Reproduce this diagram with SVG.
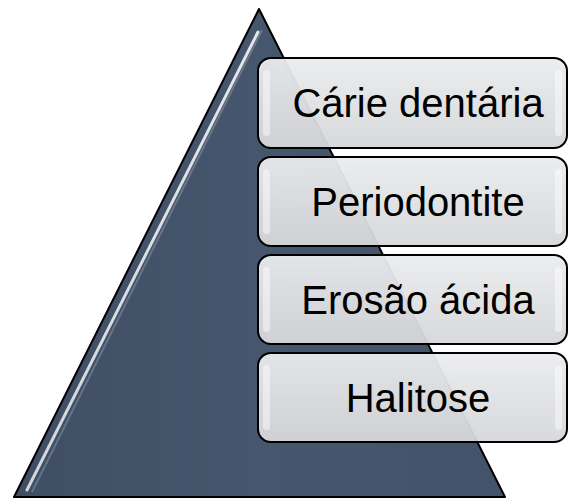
<svg xmlns="http://www.w3.org/2000/svg" width="569" height="499" viewBox="0 0 569 499">
  <defs>
    <linearGradient id="boxGrad" x1="0" y1="0" x2="0" y2="1">
      <stop offset="0" stop-color="#ebecee"/>
      <stop offset="0.5" stop-color="#e0e1e3"/>
      <stop offset="1" stop-color="#d6d7da"/>
    </linearGradient>
    <linearGradient id="triGrad" x1="0" y1="0" x2="1" y2="0">
      <stop offset="0" stop-color="#3f4e63"/>
      <stop offset="0.5" stop-color="#46566c"/>
      <stop offset="1" stop-color="#435369"/>
    </linearGradient>
    <linearGradient id="hlGrad" x1="0" y1="0" x2="0" y2="1">
      <stop offset="0" stop-color="#ffffff" stop-opacity="0.95"/>
      <stop offset="1" stop-color="#ffffff" stop-opacity="0.85"/>
    </linearGradient>
  </defs>
  <style>
    .box { fill: url(#boxGrad); fill-opacity: 0.95; stroke: #000000; stroke-width: 2; }
    .shine { fill: #ffffff; fill-opacity: 0.45; }
    .label { font-family: "Liberation Sans", Arial, sans-serif; font-size: 40px; fill: #000000; text-anchor: middle; }
  </style>
  <g id="pyramid">
    <polygon points="259,9 14,497 505,497" fill="url(#triGrad)" stroke="#000000" stroke-width="2" stroke-linejoin="round"/>
    <line x1="258" y1="32" x2="27" y2="490" stroke="url(#hlGrad)" stroke-width="3" stroke-linecap="round" opacity="0.9"/>
    <line x1="262" y1="30" x2="32" y2="492" stroke="#aab6c6" stroke-width="2" opacity="0.35"/>
  </g>
  <g id="node1">
    <rect class="box" x="258" y="58" width="309" height="90" rx="13" ry="13"/>
    <rect class="shine" x="263" y="70" width="7" height="66" rx="3.5"/>
    <rect class="shine" x="555" y="70" width="7" height="66" rx="3.5"/>
    <text class="label" x="418" y="117">Cárie dentária</text>
  </g>
  <g id="node2">
    <rect class="box" x="258" y="157" width="309" height="89" rx="13" ry="13"/>
    <rect class="shine" x="263" y="169" width="7" height="65" rx="3.5"/>
    <rect class="shine" x="555" y="169" width="7" height="65" rx="3.5"/>
    <text class="label" x="418" y="216">Periodontite</text>
  </g>
  <g id="node3">
    <rect class="box" x="258" y="255" width="309" height="89" rx="13" ry="13"/>
    <rect class="shine" x="263" y="267" width="7" height="65" rx="3.5"/>
    <rect class="shine" x="555" y="267" width="7" height="65" rx="3.5"/>
    <text class="label" x="418" y="314">Erosão ácida</text>
  </g>
  <g id="node4">
    <rect class="box" x="258" y="353" width="309" height="89" rx="13" ry="13"/>
    <rect class="shine" x="263" y="365" width="7" height="65" rx="3.5"/>
    <rect class="shine" x="555" y="365" width="7" height="65" rx="3.5"/>
    <text class="label" x="418" y="412">Halitose</text>
  </g>
  <g id="connectors"/>
</svg>
